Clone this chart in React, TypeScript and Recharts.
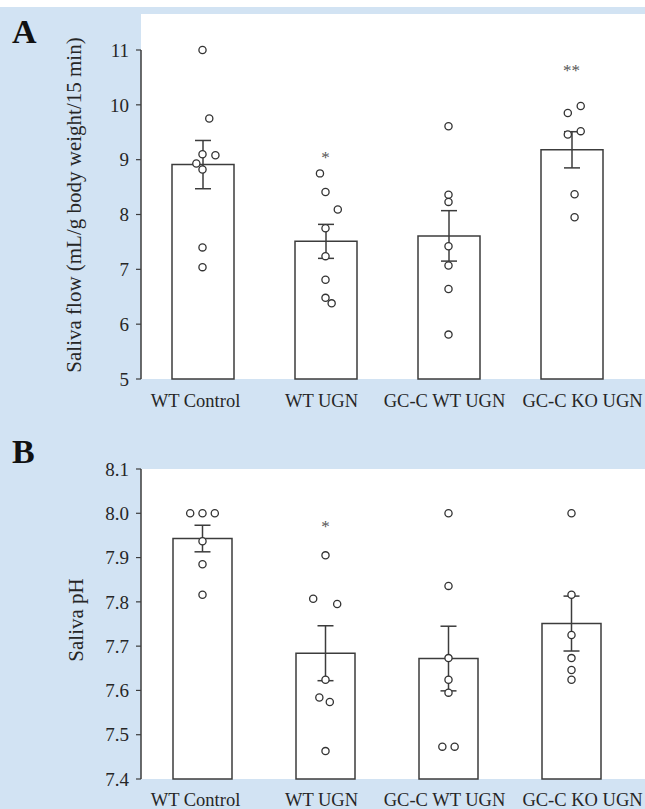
import React from 'react';
import { ComposedChart, Bar, ErrorBar, Scatter, XAxis, YAxis } from 'recharts';

const groups = ['WT Control', 'WT UGN', 'GC-C WT UGN', 'GC-C KO UGN'];

// A: saliva flow
const flowMean = [8.91, 7.51, 7.61, 9.18];
const flowSem = [0.44, 0.31, 0.46, 0.33];
const flowPoints = [
  [11.0, 9.75, 9.1, 9.08, 8.93, 8.82, 7.4, 7.04],
  [8.75, 8.41, 8.09, 7.75, 7.24, 6.81, 6.48, 6.38],
  [9.61, 8.36, 8.23, 7.42, 7.07, 6.64, 5.81],
  [9.85, 9.98, 9.46, 9.52, 8.37, 7.95],
];
const flowJitter = [
  [0, 0.055, 0, 0.105, -0.05, 0, 0, 0],
  [-0.045, 0, 0.1, 0, 0, 0, 0, 0.05],
  [0, 0, 0, 0, 0, 0, 0],
  [-0.03, 0.075, -0.03, 0.075, 0.025, 0.025],
];
const flowStars = ['', '*', '', '**'];
const flowStarAt = [0, 9.1, 0, 10.69];
const flowTicks = [5, 6, 7, 8, 9, 10, 11];

// B: saliva pH
const phMean = [7.943, 7.684, 7.672, 7.751];
const phSem = [0.03, 0.062, 0.073, 0.062];
const phPoints = [
  [8.0, 8.0, 8.0, 7.937, 7.885, 7.816],
  [7.905, 7.807, 7.795, 7.624, 7.584, 7.574, 7.463],
  [8.0, 7.836, 7.673, 7.624, 7.595, 7.473, 7.473],
  [8.0, 7.816, 7.725, 7.673, 7.646, 7.624],
];
const phJitter = [
  [-0.1, 0, 0.1, 0, 0, 0],
  [0, -0.1, 0.095, 0, -0.05, 0.035, 0],
  [0, 0, 0, 0, 0, -0.05, 0.05],
  [0, 0, 0, 0, 0, 0],
];
const phStars = ['', '*', '', ''];
const phStarAt = [0, 7.978, 0, 0];
const phTicks = [7.4, 7.5, 7.6, 7.7, 7.8, 7.9, 8.0, 8.1];

const BLUE = '#d2e3f3';
const INK = '#262626';
const LINE = '#3c3c3c';
const SERIF = 'Liberation Serif, Times New Roman, serif';
// the category labels in the figure sit a little off the bar centres
const labelNudge = [-7, -4, -4, 11];

const makeBars = (mean: number[], sem: number[]) =>
  groups.map((name, i) => ({ name, mean: mean[i], sem: sem[i] }));
const makeDots = (pts: number[][], jit: number[][]) =>
  pts.flatMap((vals, g) => vals.map((v, k) => ({ x: g + jit[g][k], y: v })));
const makeStars = (marks: string[], at: number[]) =>
  marks.map((mark, g) => ({ x: g, y: at[g], mark })).filter((d) => d.mark);

const Dot = (p: any) => (
  <circle cx={p.cx} cy={p.cy} r={3.6} fill="#fff" stroke="#333" strokeWidth={1.3} />
);
const Star = (p: any) => (
  <text x={p.cx} y={p.cy + 9} textAnchor="middle" fontSize={17} fill="#555" fontFamily={SERIF}>
    {p.payload.mark}
  </text>
);
const CatTick = (p: any) => (
  <text
    x={p.x + (labelNudge[p.index] || 0)}
    y={p.y + 13}
    textAnchor="middle"
    fontSize={18.5}
    fill={INK}
    fontFamily={SERIF}
  >
    {p.payload.value}
  </text>
);

type PanelProps = {
  top: number;
  height: number;
  letter: string;
  title: string;
  titleX: number;
  titleY: number;
  plotTop: number;
  whiteTop: number;
  bottomMargin: number;
  tickMargin: number;
  domain: [number, number];
  ticks: number[];
  fmt: (v: number) => string;
  bars: any[];
  dots: any[];
  stars: any[];
  barSize: number;
};

const Panel = (p: PanelProps) => {
  const plotBottom = p.height - p.bottomMargin - 30;
  return (
    <div style={{ position: 'absolute', left: 0, top: p.top, width: 645, height: p.height }}>
      <div
        style={{
          position: 'absolute',
          left: 141,
          top: p.whiteTop,
          width: 504,
          height: plotBottom - p.whiteTop,
          background: '#fff',
        }}
      />
      <div style={{ position: 'absolute', left: 0, top: 0 }}>
        <ComposedChart
          width={645}
          height={p.height}
          data={p.bars}
          margin={{ top: p.plotTop, right: 0, bottom: p.bottomMargin, left: 0 }}
        >
          <XAxis
            xAxisId="cat"
            dataKey="name"
            interval={0}
            axisLine={false}
            tickLine={false}
            tickSize={0}
            tickMargin={p.tickMargin}
            height={30}
            padding={{ left: 0, right: 12 }}
            tick={CatTick}
          />
          <XAxis
            xAxisId="num"
            type="number"
            dataKey="x"
            domain={[-0.5, 3.5]}
            padding={{ left: 0, right: 12 }}
            hide
          />
          <YAxis
            type="number"
            width={141}
            domain={p.domain}
            ticks={p.ticks}
            interval={0}
            tickFormatter={p.fmt}
            tickSize={5}
            tickMargin={7}
            axisLine={{ stroke: LINE, strokeWidth: 1.5 }}
            tickLine={{ stroke: LINE, strokeWidth: 1.2 }}
            tick={{ fontSize: 19, fill: INK, fontFamily: SERIF }}
          />
          <Bar
            xAxisId="cat"
            dataKey="mean"
            fill="#fff"
            stroke={LINE}
            strokeWidth={1.5}
            barSize={p.barSize}
            isAnimationActive={false}
          >
            <ErrorBar dataKey="sem" width={8} stroke={LINE} strokeWidth={1.5} direction="y" />
          </Bar>
          <Scatter
            xAxisId="num"
            data={p.dots}
            dataKey="y"
            shape={Dot}
            isAnimationActive={false}
          />
          <Scatter
            xAxisId="num"
            data={p.stars}
            dataKey="y"
            shape={Star}
            isAnimationActive={false}
          />
        </ComposedChart>
      </div>
      <svg
        width={645}
        height={p.height}
        style={{ position: 'absolute', left: 0, top: 0, pointerEvents: 'none' }}
      >
        <text x={12} y={43} fontSize={34} fontWeight="bold" fill="#111" fontFamily={SERIF}>
          {p.letter}
        </text>
        <text
          transform={`translate(${p.titleX},${p.titleY}) rotate(-90)`}
          textAnchor="middle"
          fontSize={21}
          fill={INK}
          fontFamily={SERIF}
        >
          {p.title}
        </text>
      </svg>
    </div>
  );
};

export default function App() {
  return (
    <div
      style={{
        position: 'absolute',
        left: 0,
        top: 0,
        width: 645,
        height: 809,
        background: BLUE,
        overflow: 'hidden',
      }}
    >
      <div style={{ position: 'absolute', left: 0, top: 0, width: 645, height: 7, background: '#fff' }} />
      <Panel
        top={0}
        height={420}
        letter="A"
        title="Saliva flow (mL/g body weight/15 min)"
        titleX={81}
        titleY={205}
        plotTop={50}
        whiteTop={14}
        bottomMargin={11}
        tickMargin={15}
        domain={[5, 11]}
        ticks={flowTicks}
        fmt={(v) => String(v)}
        bars={makeBars(flowMean, flowSem)}
        dots={makeDots(flowPoints, flowJitter)}
        stars={makeStars(flowStars, flowStarAt)}
        barSize={62}
      />
      <Panel
        top={420}
        height={389}
        letter="B"
        title="Saliva pH"
        titleX={83}
        titleY={200}
        plotTop={49}
        whiteTop={49}
        bottomMargin={0}
        tickMargin={14}
        domain={[7.4, 8.1]}
        ticks={phTicks}
        fmt={(v) => v.toFixed(1)}
        bars={makeBars(phMean, phSem)}
        dots={makeDots(phPoints, phJitter)}
        stars={makeStars(phStars, phStarAt)}
        barSize={59}
      />
    </div>
  );
}
